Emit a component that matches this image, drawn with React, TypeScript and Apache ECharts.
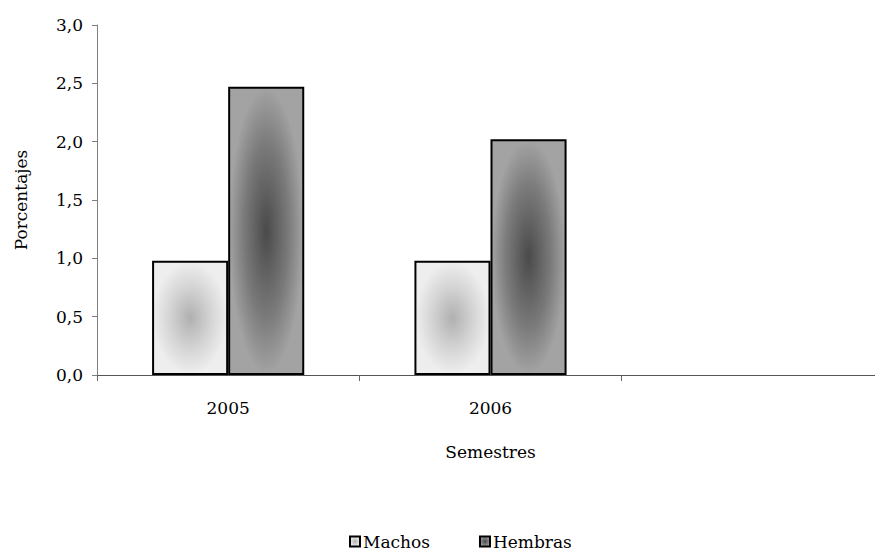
import React, { useEffect, useRef } from "react";
import * as echarts from "echarts";

const categories = ["2005", "2006", ""];
const machos = [0.98, 0.98, null];
const hembras = [2.47, 2.02, null];
const yTicks = { min: 0, max: 3, interval: 0.5 };

const FONT = "DejaVu Serif";
const FS = 17;

const machosFill = {
  type: "radial",
  x: 0.5,
  y: 0.5,
  r: 0.5,
  colorStops: [
    { offset: 0, color: "#b0b0b0" },
    { offset: 0.55, color: "#d4d4d4" },
    { offset: 1, color: "#eeeeee" },
  ],
};
const hembrasFill = {
  type: "radial",
  x: 0.5,
  y: 0.5,
  r: 0.5,
  colorStops: [
    { offset: 0, color: "#4a4a4a" },
    { offset: 0.6, color: "#7a7a7a" },
    { offset: 1, color: "#a3a3a3" },
  ],
};

export default function App() {
  const ref = useRef<HTMLDivElement>(null);
  useEffect(() => {
    const chart = echarts.init(ref.current!, null, { renderer: "svg" });
    chart.setOption({
      animation: false,
      backgroundColor: "#ffffff",
      textStyle: { fontFamily: FONT, color: "#000" },
      grid: {
        left: 97,
        top: 25,
        width: 787,
        bottom: 178,
        containLabel: false,
        outerBoundsMode: "none",
      },
      legend: {
        left: 349,
        top: 533,
        padding: 0,
        itemWidth: 10,
        itemHeight: 10,
        itemGap: 49,
        icon: "rect",
        textStyle: { fontFamily: FONT, fontSize: FS, color: "#000", padding: [0, 0, 0, -2] },
        data: ["Machos", "Hembras"],
      },
      xAxis: {
        type: "category",
        data: categories,
        name: "Semestres",
        nameLocation: "middle",
        nameGap: 68,
        nameTextStyle: { fontFamily: FONT, fontSize: FS, color: "#000" },
        axisLine: { lineStyle: { color: "#555", width: 1 } },
        axisTick: { show: true, alignWithLabel: false, length: 6, lineStyle: { color: "#666" } },
        axisLabel: { fontFamily: FONT, fontSize: FS, color: "#000", margin: 24 },
      },
      yAxis: {
        type: "value",
        min: yTicks.min,
        max: yTicks.max,
        interval: yTicks.interval,
        name: "Porcentajes",
        nameLocation: "middle",
        nameGap: 68,
        nameRotate: 90,
        nameTextStyle: { fontFamily: FONT, fontSize: FS, color: "#000" },
        axisLine: { show: true, lineStyle: { color: "#808080", width: 1 } },
        axisTick: { show: true, length: 5, lineStyle: { color: "#808080" } },
        splitLine: { show: false },
        axisLabel: {
          fontFamily: FONT,
          fontSize: FS,
          color: "#000",
          margin: 14,
          formatter: (v: number) => v.toFixed(1).replace(".", ","),
        },
      },
      series: [
        {
          name: "Machos",
          type: "bar",
          data: machos,
          barWidth: "29%",
          barGap: "0%",
          itemStyle: { color: machosFill, borderColor: "#000", borderWidth: 2 },
        },
        {
          name: "Hembras",
          type: "bar",
          data: hembras,
          barWidth: "29%",
          barGap: "0%",
          itemStyle: { color: hembrasFill, borderColor: "#000", borderWidth: 2 },
        },
      ],
    });
    return () => chart.dispose();
  }, []);
  return (
    <div
      ref={ref}
      style={{ position: "fixed", left: 0, top: 0, width: 875, height: 553 }}
    />
  );
}
